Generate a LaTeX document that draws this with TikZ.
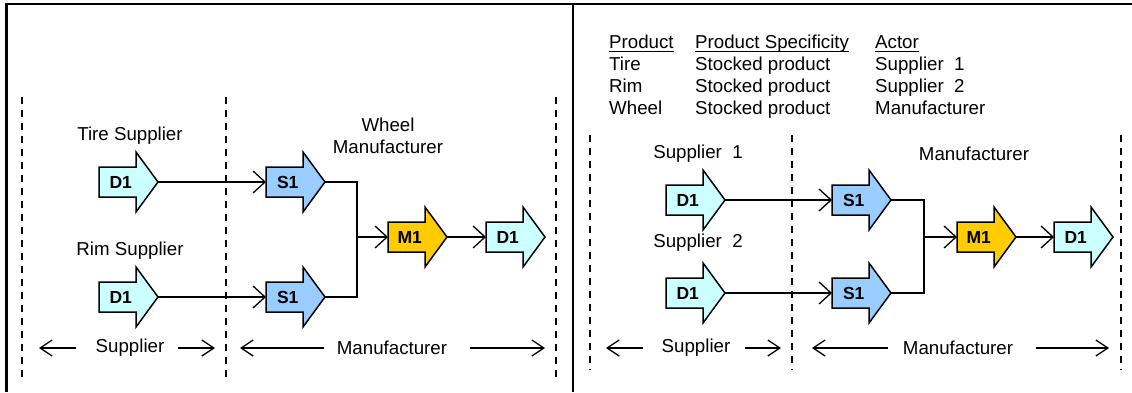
\documentclass[tikz,border=0pt]{standalone}
\usepackage{fontspec}
\setmainfont{Liberation Sans}
\usetikzlibrary{arrows.meta,calc}
\definecolor{dcol}{HTML}{CCFFFF}
\definecolor{scol}{HTML}{99CCFF}
\definecolor{mcol}{HTML}{FFCC00}
\tikzset{
  framebox/.style={line width=2.2pt,black},
  divider/.style={line width=1.4pt,dash pattern=on 7pt off 6pt},
  flowline/.style={line width=1.3pt,-{Straight Barb[length=12pt,width=22pt,line width=1.3pt]}},
  spanline/.style={line width=1.3pt,-{Straight Barb[length=12pt,width=16pt,line width=1.3pt]}},
  shaftbox/.style={minimum width=37pt,minimum height=30pt,inner sep=0pt,anchor=west,font=\fontsize{17.5}{20}\selectfont\bfseries},
  outline/.style={line width=1.5pt,draw=black},
  lbl/.style={font=\fontsize{18.7}{21}\selectfont,inner sep=0pt},
  tbl/.style={font=\fontsize{18.7}{21}\selectfont,inner sep=0pt,anchor=base west},
}
\newcommand{\flowarrow}[5]{%
  \filldraw[outline,fill=#4] ({#2},{#3-15}) -- ({#2+37},{#3-15}) -- ({#2+37},{#3-30}) -- ({#2+59},{#3}) -- ({#2+37},{#3+30}) -- ({#2+37},{#3+15}) -- ({#2},{#3+15}) -- cycle;
  \node[shaftbox] (#1) at ({#2+3},{#3}) {#5};
  \coordinate (#1-tip) at ({#2+59},{#3});
  \coordinate (#1-in) at ({#2},{#3});
}
\newcommand{\ulnode}[4]{%
  \node[tbl] (#1) at (#2,#3) {#4};
  \draw[line width=1.2pt] ($(#1.base west)+(0,3.5)$) -- ($(#1.base east)+(0,3.5)$);
}
\begin{document}
\begin{tikzpicture}[x=1pt,y=-1pt]
\useasboundingbox (0,0) rectangle (1132,392);
% frame
\draw[framebox] (6.5,392) -- (6.5,4) -- (1132,4);
\draw[framebox] (573,4) -- (573,392);

% ---------- left panel ----------
\draw[divider] (22,97) -- (22,378);
\draw[divider] (226,97) -- (226,378);
\draw[divider] (556,97) -- (556,378);

\node[lbl] (tiresup) at (130,136) {Tire Supplier};
\node[lbl] (rimsup) at (130,251) {Rim Supplier};
\node[lbl,align=center] (wheelman) at (388,136) {Wheel\\[1pt]Manufacturer};

\flowarrow{ld1a}{99}{182}{dcol}{D1}
\flowarrow{ls1a}{266}{182}{scol}{S1}
\flowarrow{ld1b}{99}{297}{dcol}{D1}
\flowarrow{ls1b}{266}{297}{scol}{S1}
\flowarrow{lm1}{388}{237}{mcol}{M1}
\flowarrow{ld1c}{486}{237}{dcol}{D1}

\draw[flowline] (ld1a-tip) -- (ls1a-in);
\draw[flowline] (ld1b-tip) -- (ls1b-in);
\coordinate (ljoin) at (357,237);
\draw[line width=1.3pt] (ls1a-tip) -- (357,182) -- (357,297) -- (ls1b-tip);
\draw[flowline] (ljoin) -- (lm1-in);
\draw[flowline] (lm1-tip) -- (ld1c-in);

\node[lbl] (lsup) at (130,348) {Supplier};
\node[lbl] (lman) at (392,348) {Manufacturer};
\coordinate (lsa1) at (76,348); \coordinate (lsa2) at (39,348);
\coordinate (lsb1) at (178,348); \coordinate (lsb2) at (215,348);
\coordinate (lma1) at (324,348); \coordinate (lma2) at (240,348);
\coordinate (lmb1) at (470,348); \coordinate (lmb2) at (545,348);
\draw[spanline] (lsa1) -- (lsa2);
\draw[spanline] (lsb1) -- (lsb2);
\draw[spanline] (lma1) -- (lma2);
\draw[spanline] (lmb1) -- (lmb2);

% ---------- right panel ----------
\ulnode{h1}{609}{48}{Product}
\ulnode{h2}{695}{48}{Product Specificity}
\ulnode{h3}{875}{48}{Actor}
\node[tbl] (t11) at (609,70) {Tire};
\node[tbl] (t12) at (695,70) {Stocked product};
\node[tbl] (t13) at (875,70) {Supplier\ \ 1};
\node[tbl] (t21) at (609,92) {Rim};
\node[tbl] (t22) at (695,92) {Stocked product};
\node[tbl] (t23) at (875,92) {Supplier\ \ 2};
\node[tbl] (t31) at (609,114) {Wheel};
\node[tbl] (t32) at (695,114) {Stocked product};
\node[tbl] (t33) at (875,114) {Manufacturer};

\draw[divider] (590,135) -- (590,370);
\draw[divider] (792,135) -- (792,370);
\draw[divider] (1121,135) -- (1121,370);

\node[lbl] (rsup1) at (698,154) {Supplier\ \ 1};
\node[lbl] (rsup2) at (698,243) {Supplier\ \ 2};
\node[lbl] (rmanlbl) at (974,154) {Manufacturer};

\flowarrow{rd1a}{666}{200}{dcol}{D1}
\flowarrow{rs1a}{832}{200}{scol}{S1}
\flowarrow{rd1b}{666}{293}{dcol}{D1}
\flowarrow{rs1b}{832}{293}{scol}{S1}
\flowarrow{rm1}{957}{237}{mcol}{M1}
\flowarrow{rd1c}{1054}{237}{dcol}{D1}

\draw[flowline] (rd1a-tip) -- (rs1a-in);
\draw[flowline] (rd1b-tip) -- (rs1b-in);
\coordinate (rjoin) at (924,237);
\draw[line width=1.3pt] (rs1a-tip) -- (924,200) -- (924,293) -- (rs1b-tip);
\draw[flowline] (rjoin) -- (rm1-in);
\draw[flowline] (rm1-tip) -- (rd1c-in);

\node[lbl] (rsup) at (696,348) {Supplier};
\node[lbl] (rman) at (958,348) {Manufacturer};
\coordinate (rsa1) at (643,348); \coordinate (rsa2) at (606,348);
\coordinate (rsb1) at (745,348); \coordinate (rsb2) at (781,348);
\coordinate (rma1) at (888,348); \coordinate (rma2) at (812,348);
\coordinate (rmb1) at (1036,348); \coordinate (rmb2) at (1109,348);
\draw[spanline] (rsa1) -- (rsa2);
\draw[spanline] (rsb1) -- (rsb2);
\draw[spanline] (rma1) -- (rma2);
\draw[spanline] (rmb1) -- (rmb2);
\end{tikzpicture}
\end{document}
